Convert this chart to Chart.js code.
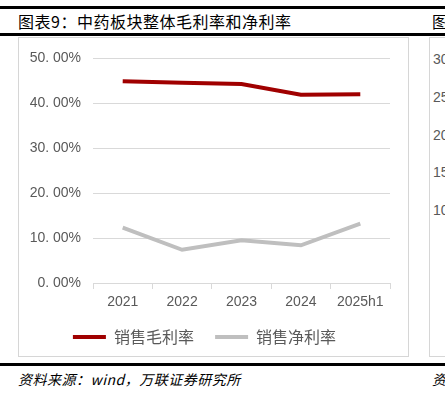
<!DOCTYPE html>
<html>
<head>
<meta charset="utf-8">
<script src="https://cdn.jsdelivr.net/npm/chart.js@4/dist/chart.umd.min.js"></script>
<style>
  html, body { margin: 0; padding: 0; background: #fff; width: 445px; height: 395px; overflow: hidden; }
  .rule { position: absolute; left: 0; width: 445px; height: 3px; background: #000; }
  .title { position: absolute; left: 18px; top: 9px; font: 16px "Noto Sans CJK SC", sans-serif; color: #000; letter-spacing: 0.5px; white-space: nowrap; }
  .box { position: absolute; top: 37px; height: 320px; border: 1.5px solid #d6d6d6; box-sizing: border-box; }
  .note { position: absolute; left: 18px; top: 369px; font: italic 14px "Noto Sans CJK SC", sans-serif; color: #000; letter-spacing: 0.5px; white-space: nowrap; }
  .side { position: absolute; left: 433px; font: 14px "Liberation Sans", sans-serif; color: #595959; white-space: nowrap; }
  #wrap { position: absolute; left: 19px; top: 38px; width: 388px; height: 318px; }
</style>
</head>
<body>
<div class="rule" style="top:6px"></div>
<div class="rule" style="top:33px"></div>
<div class="rule" style="top:363px"></div>
<div class="title">图表9：中药板块整体毛利率和净利率</div>
<div class="title" style="left:432px">图</div>
<div class="box" style="left:18px;width:391px"></div>
<div class="box" style="left:429px;width:40px"></div>
<div class="side" style="top:51px">30. 00%</div>
<div class="side" style="top:89px">25. 00%</div>
<div class="side" style="top:127px">20. 00%</div>
<div class="side" style="top:164px">15. 00%</div>
<div class="side" style="top:202px">10. 00%</div>
<div class="note">资料来源：wind，万联证券研究所</div>
<div class="note" style="left:432px">资</div>
<div id="wrap"><canvas id="chart"></canvas></div>
<script>
const years = ["2021", "2022", "2023", "2024", "2025h1"];
const grossMargin = [44.9, 44.6, 44.3, 41.9, 42.0];
const netMargin = [12.3, 7.4, 9.5, 8.4, 13.2];

const tickFont = { family: "Liberation Sans", size: 14 };

new Chart(document.getElementById("chart"), {
  type: "line",
  data: {
    labels: years,
    datasets: [
      {
        label: "销售毛利率",
        data: grossMargin,
        borderColor: "#a00000",
        backgroundColor: "#a00000",
        borderWidth: 4,
        pointRadius: 0,
        tension: 0,
      },
      {
        label: "销售净利率",
        data: netMargin,
        borderColor: "#bfbfbf",
        backgroundColor: "#bfbfbf",
        borderWidth: 4,
        pointRadius: 0,
        tension: 0,
      },
    ],
  },
  options: {
    responsive: true,
    maintainAspectRatio: false,
    animation: false,
    layout: { padding: { top: 20, right: 17, left: 0, bottom: 1 } },
    plugins: {
      tooltip: { enabled: false },
      legend: {
        position: "bottom",
        labels: {
          boxWidth: 33,
          boxHeight: 4,
          padding: 10,
          color: "#595959",
          font: { family: "Noto Sans CJK SC", size: 16 },
          // extra gap after the first item
          generateLabels: (chart) =>
            Chart.defaults.plugins.legend.labels
              .generateLabels(chart)
              .map((item, i) => ({
                ...item,
                lineWidth: 0,
                text: i === 0 ? item.text + "\u2002\u2009" : item.text,
              })),
        },
      },
    },
    scales: {
      x: {
        offset: true,
        grid: {
          offset: true,
          drawOnChartArea: false,
          color: "#d9d9d9",
          tickLength: 6,
        },
        border: { color: "#d9d9d9" },
        ticks: { color: "#595959", font: tickFont, padding: 5, maxRotation: 0 },
        afterFit: (s) => { s.height = 36; },
      },
      y: {
        min: 0,
        max: 50,
        border: { display: false },
        grid: { color: "#d9d9d9", tickLength: 0 },
        ticks: {
          stepSize: 10,
          color: "#595959",
          font: tickFont,
          padding: 12,
          callback: (v) => v.toFixed(2).replace(".", ". ") + "%",
        },
        afterFit: (s) => { s.width = 74; },
      },
    },
  },
});
</script>
</body>
</html>
